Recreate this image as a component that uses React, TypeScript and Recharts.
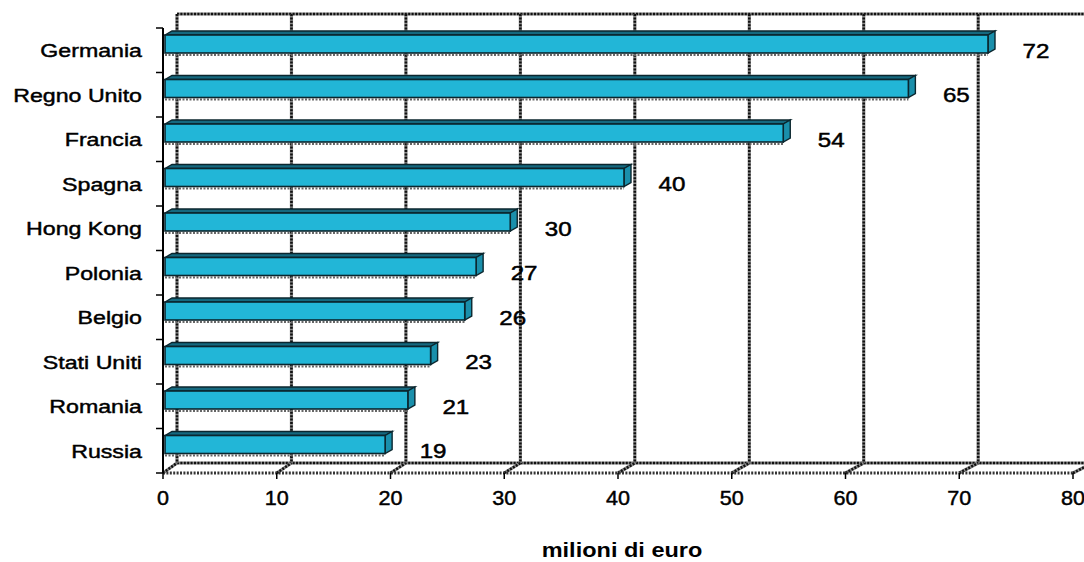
import { BarChart, Bar, XAxis, YAxis, CartesianGrid, LabelList, Label } from 'recharts';

const countries = [
  'Germania', 'Regno Unito', 'Francia', 'Spagna', 'Hong Kong',
  'Polonia', 'Belgio', 'Stati Uniti', 'Romania', 'Russia',
];
const values = [72, 65, 54, 40, 30, 27, 26, 23, 21, 19];
const xTicks = [0, 10, 20, 30, 40, 50, 60, 70, 80];

const data = countries.map((name, i) => ({ name, value: values[i] }));

const FONT = '"Liberation Sans", Arial, Helvetica, sans-serif';

// pseudo-3D: back wall sits up and to the right of the plot
const WALL_DX = 14;
const WALL_TOP = 14;
const WALL_FLOOR = 10;
const WALL_SKEW = 1.0062;
// bar depth
const BAR_DX = 7;
const BAR_DY = 4;
const BAR_LIFT = 6;

const FRONT = '#22B6D7';
const TOP = '#15697F';
const SIDE = '#1A8FAB';
const EDGE = '#0B262E';

function DottedLine({ x1, y1, x2, y2 }: { x1: number; y1: number; x2: number; y2: number }) {
  return (
    <g>
      <line x1={x1} y1={y1} x2={x2} y2={y2} stroke="#8a8a8a" strokeWidth={3.2} />
      <line x1={x1} y1={y1} x2={x2} y2={y2} stroke="#111" strokeWidth={2.6} strokeDasharray="2 1.4" />
    </g>
  );
}

function WallLine(props: any) {
  const { x1, y1, y2, index } = props;
  const left = props.x ?? props.offset?.left ?? x1;
  const width = props.width ?? 0;
  const bx = left + WALL_DX + (x1 - left) * WALL_SKEW;
  const top = y1 - WALL_TOP;
  const back = y2 - WALL_FLOOR;
  const first = index === 0 || Math.abs(x1 - left) < 0.5;
  const rightEnd = left + WALL_DX + width * WALL_SKEW + 20;
  return (
    <g>
      {first && <DottedLine x1={bx} y1={top} x2={rightEnd} y2={top} />}
      {first && <DottedLine x1={bx} y1={back} x2={rightEnd} y2={back} />}
      <DottedLine x1={bx} y1={top} x2={bx} y2={back} />
      <DottedLine x1={x1} y1={y2} x2={bx} y2={back} />
    </g>
  );
}

function Bar3D(props: any) {
  const { x, y, width, height } = props;
  const fy = y - BAR_LIFT;
  const x0 = x + 2;
  const x1 = x + width + 6;
  const yb = fy + height;
  return (
    <g>
      <line x1={x0} y1={yb + 2} x2={x1} y2={yb + 2} stroke="#666" strokeWidth={2} strokeDasharray="2 1.5" />
      <polygon
        points={`${x0},${fy} ${x0 + BAR_DX},${fy - BAR_DY} ${x1 + BAR_DX},${fy - BAR_DY} ${x1},${fy}`}
        fill={TOP}
        stroke={EDGE}
        strokeWidth={1.4}
      />
      <polygon
        points={`${x1},${fy} ${x1 + BAR_DX},${fy - BAR_DY} ${x1 + BAR_DX},${yb - BAR_DY} ${x1},${yb}`}
        fill={SIDE}
        stroke={EDGE}
        strokeWidth={1.4}
      />
      <rect x={x0} y={fy} width={x1 - x0} height={height} fill={FRONT} stroke={EDGE} strokeWidth={1.6} />
    </g>
  );
}

function ValueLabel(props: any) {
  const { x, y, width, height, value } = props;
  const cx = x + width + 54;
  const cy = y + height / 2;
  return (
    <text
      transform={`translate(${cx},${cy}) scale(1.15,1)`}
      textAnchor="middle"
      dy="0.36em"
      fontFamily={FONT}
      fontSize={21}
      fill="#000"
      stroke="#000"
      strokeWidth={0.5}
    >
      {value}
    </text>
  );
}

function CountryTick(props: any) {
  const { x, y, payload, index } = props;
  const half = payload?.offset || 22.25;
  const last = index === countries.length - 1;
  return (
    <g>
      <line x1={x - 7} y1={y - half} x2={x} y2={y - half} stroke="#000" strokeWidth={1.5} />
      {last && <line x1={x - 7} y1={y + half} x2={x} y2={y + half} stroke="#000" strokeWidth={1.5} />}
      <text
        transform={`translate(${x - 21},${y}) scale(1.22,1)`}
        textAnchor="end"
        dy="0.36em"
        fontFamily={FONT}
        fontSize={19}
        fill="#000"
        stroke="#000"
        strokeWidth={0.45}
      >
        {payload.value}
      </text>
    </g>
  );
}

function ValueTick(props: any) {
  const { x, y, payload } = props;
  return (
    <text
      transform={`translate(${x},${y + 26}) scale(1.08,1)`}
      textAnchor="middle"
      fontFamily={FONT}
      fontSize={20}
      fill="#000"
      stroke="#000"
      strokeWidth={0.45}
    >
      {payload.value}
    </text>
  );
}

function AxisTitle(props: any) {
  const vb = props.viewBox || {};
  const cx = vb.x + vb.width / 2 + 4;
  const by = vb.y + 84;
  return (
    <text
      transform={`translate(${cx},${by}) scale(1.12,1)`}
      textAnchor="middle"
      fontFamily={FONT}
      fontSize={21}
      fontWeight="bold"
      fill="#000"
    >
      milioni di euro
    </text>
  );
}

export default function App() {
  return (
    <div style={{ position: 'absolute', left: 0, top: 0, width: 1084, height: 562, background: '#fff' }}>
      <BarChart
        width={1084}
        height={562}
        data={data}
        layout="vertical"
        margin={{ top: 28, right: 11, bottom: 49, left: 0 }}
        barCategoryGap={0}
      >
        <CartesianGrid horizontal={false} vertical={WallLine} stroke="none" />
        <XAxis
          type="number"
          domain={[0, 80]}
          ticks={xTicks}
          interval={0}
          height={40}
          tickSize={6}
          tickMargin={0}
          tick={ValueTick}
          tickLine={{ stroke: '#000', strokeWidth: 1.5 }}
          axisLine={{ stroke: '#333', strokeWidth: 2.8, strokeDasharray: '2 1.4' }}
        >
          <Label content={AxisTitle} />
        </XAxis>
        <YAxis
          type="category"
          dataKey="name"
          width={163}
          tickSize={0}
          tickMargin={0}
          tickLine={false}
          tick={CountryTick}
          interval={0}
          axisLine={{ stroke: '#000', strokeWidth: 2 }}
        />
        <Bar dataKey="value" barSize={18} shape={Bar3D} isAnimationActive={false}>
          <LabelList dataKey="value" content={ValueLabel} />
        </Bar>
      </BarChart>
    </div>
  );
}
